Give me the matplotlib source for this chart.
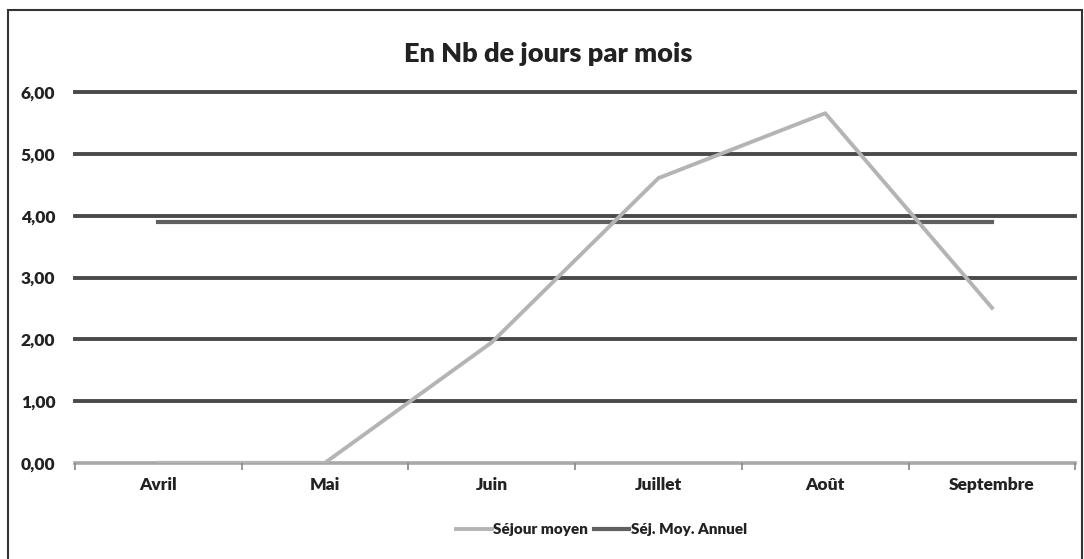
import numpy as np
import matplotlib.pyplot as plt
from matplotlib.patches import Rectangle

mois = ['Avril', 'Mai', 'Juin', 'Juillet', 'Août', 'Septembre']
sejour_moyen = [0.0, 0.0, 1.95, 4.61, 5.66, 2.51]
sej_moy_annuel = [3.90, 3.90, 3.90, 3.90, 3.90, 3.90]
yticks = [0, 1, 2, 3, 4, 5, 6]

plt.rcParams['font.family'] = ['Lato', 'DejaVu Sans']

fig = plt.figure(figsize=(10.84, 5.59), dpi=100)
ax = fig.add_axes([0.069, 0.172, 0.923, 0.663])

x = np.arange(len(mois))
ax.set_xlim(-0.5, len(mois) - 0.5)
ax.set_ylim(0, 6)

# gridlines
for v in yticks[1:]:
    ax.axhline(v, color='#4a4a4a', lw=2.8, zorder=1, clip_on=False)
ax.axhline(0, color='#a8a8a8', lw=2.6, zorder=1, clip_on=False)

ax.plot(x, sejour_moyen, color='#b4b4b4', lw=2.8, zorder=3, label='Séjour moyen')
ax.plot(x, sej_moy_annuel, color='#606060', lw=3, zorder=2, label='Séj. Moy. Annuel')

ax.set_xticks(x)
ax.set_xticklabels(mois, fontsize=12.5, fontweight='heavy', color='#222222')
ax.set_xticks(np.arange(-0.5, len(mois)), minor=True)
ax.tick_params(axis='x', which='major', length=0, pad=10)
ax.tick_params(axis='x', which='minor', length=5, width=1.2, color='#888888', direction='out')
ax.set_yticks(yticks)
ax.yaxis.set_major_formatter(plt.FuncFormatter(lambda v, p: ('%.2f' % v).replace('.', ',')))
for t in ax.get_yticklabels():
    t.set_fontsize(12.5)
    t.set_fontweight('heavy')
    t.set_color('#222222')
ax.tick_params(axis='y', length=0, pad=14)
for s in ax.spines.values():
    s.set_visible(False)

ax.set_title('En Nb de jours par mois', fontsize=19.5, fontweight='heavy', color='#222222',
             pad=22, x=0.473)

leg = fig.legend(loc='center', bbox_to_anchor=(0.555, 0.052), ncol=2, frameon=False,
                 prop={'size': 11, 'weight': 'heavy'}, handlelength=2.3, columnspacing=0.4,
                 handletextpad=0.1)
for t in leg.get_texts():
    t.set_color('#222222')

fig.patches.append(Rectangle((0.007, -0.01), 0.991, 0.993, transform=fig.transFigure,
                             fill=False, edgecolor='#333333', lw=1.5))

fig.savefig('out.png', dpi=100)
